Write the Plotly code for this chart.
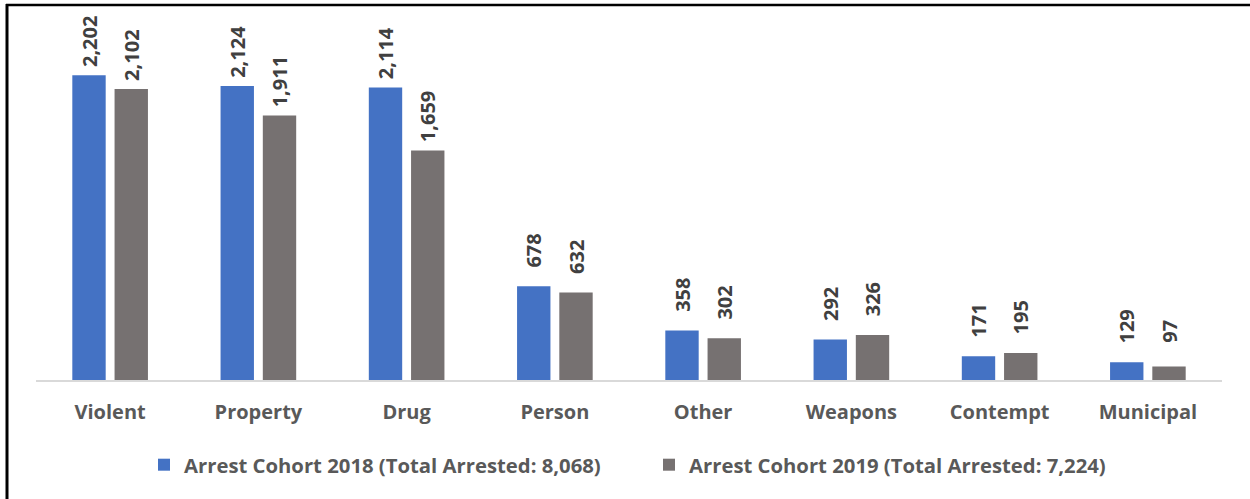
import plotly.graph_objects as go

categories = ["Violent", "Property", "Drug", "Person", "Other", "Weapons", "Contempt", "Municipal"]
cohort_2018 = [2202, 2124, 2114, 678, 358, 292, 171, 129]
cohort_2019 = [2102, 1911, 1659, 632, 302, 326, 195, 97]
name_2018 = "Arrest Cohort 2018 (Total Arrested: 8,068)"
name_2019 = "Arrest Cohort 2019 (Total Arrested: 7,224)"

FONT = "Open Sans"
label_font = dict(family=FONT, size=20, color="#404040", weight="bold")

W, H = 1250, 499
L, R, T, B = 36, 28, 34, 119
pw, ph = W - L - R, H - T - B

def px(x):
    return (x - L) / pw

def py(y):
    return (H - B - y) / ph

NB = "\u00a0"

def centred_label(v):
    # Excel centres rotated labels at a fixed distance above the bar: pad shorter labels
    s = f"{v:,}"
    pad = {5: 1, 4: 2, 3: 3, 2: 4, 1: 5}[len(s)]
    return NB * pad + s + NB * pad

fig = go.Figure()
for name, vals, color, leg in [(name_2018, cohort_2018, "#4472C4", "legend"),
                               (name_2019, cohort_2019, "#767171", "legend2")]:
    fig.add_trace(go.Bar(
        x=categories, y=vals, name=name, legend=leg,
        marker=dict(color=color, line=dict(width=0)),
        text=[centred_label(v) for v in vals],
        textposition="outside", textangle=-90,
        textfont=label_font, cliponaxis=False, constraintext="none",
    ))

legend_font = dict(family=FONT, size=20.3, color="#595959", weight="bold")
fig.update_layout(
    width=W, height=H,
    margin=dict(l=L, r=R, t=T, b=B),
    paper_bgcolor="white", plot_bgcolor="white",
    barmode="group", bargap=0.43, bargroupgap=0.21,
    font=dict(family=FONT, color="#595959"),
    showlegend=True,
    legend=dict(orientation="h", x=px(144), xanchor="left", y=py(465), yanchor="middle",
                font=legend_font, itemwidth=30, bgcolor="rgba(0,0,0,0)"),
    legend2=dict(orientation="h", x=px(649), xanchor="left", y=py(465), yanchor="middle",
                 font=legend_font, itemwidth=30, bgcolor="rgba(0,0,0,0)"),
    xaxis=dict(showline=True, linecolor="#D9D9D9", linewidth=2, ticks="outside", ticklen=13,
               tickcolor="rgba(0,0,0,0)", showgrid=False,
               tickfont=dict(family=FONT, size=20, color="#595959", weight="bold")),
    yaxis=dict(range=[0, 2500], visible=False, showgrid=False, zeroline=False),
    shapes=[
        dict(type="line", xref="paper", yref="paper", x0=px(6), x1=px(1252), y0=py(5), y1=py(5),
             line=dict(color="black", width=2.5)),
        dict(type="line", xref="paper", yref="paper", x0=px(7), x1=px(7), y0=py(4), y1=py(502),
             line=dict(color="black", width=3)),
    ],
)

fig.write_html("out.html")
